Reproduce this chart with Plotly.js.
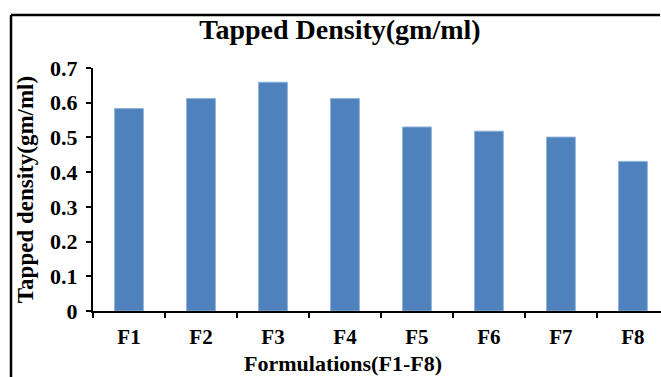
<!DOCTYPE html>
<html>
<head>
<meta charset="utf-8">
<script src="https://cdn.plot.ly/plotly-3.0.1.min.js"></script>
<style>html,body{margin:0;padding:0;background:#fff;}#chart{width:661px;height:377px;}</style>
</head>
<body>
<div id="chart"></div>
<script>
const categories = ["F1", "F2", "F3", "F4", "F5", "F6", "F7", "F8"];
const tappedDensity = [0.583, 0.612, 0.659, 0.612, 0.530, 0.518, 0.501, 0.431];
const yTickValues = [0, 0.1, 0.2, 0.3, 0.4, 0.5, 0.6, 0.7];
const yTickLabels = ["0", "0.1", "0.2", "0.3", "0.4", "0.5", "0.6", "0.7"];
const xAxisTitle = "Formulations(F1-F8)";

const serif = "Liberation Serif, Times New Roman, serif";

const trace = {
  type: "bar",
  x: categories,
  y: tappedDensity,
  width: 0.4,
  marker: { color: "#4F81BD", line: { color: "#8DB0DA", width: 1 } },
  hoverinfo: "x+y"
};

const layout = {
  width: 661,
  height: 377,
  margin: { l: 93, r: 0, t: 68, b: 66, pad: 0 },
  paper_bgcolor: "#ffffff",
  plot_bgcolor: "#ffffff",
  showlegend: false,
  font: { family: serif, color: "#000000", weight: "bold" },
  title: {
    text: "Tapped Density(gm/ml)",
    font: { family: serif, size: 28, color: "#000", weight: "bold" },
    xref: "container", yref: "container",
    x: 340 / 661, xanchor: "center",
    y: 1 - 29 / 377, yanchor: "middle"
  },
  xaxis: {
    type: "category",
    range: [-0.5, 7.39],
    tickson: "boundaries",
    ticks: "outside",
    ticklen: 5,
    tickwidth: 2,
    tickcolor: "#000",
    ticklabelstandoff: 6,
    showline: true,
    linecolor: "#000",
    linewidth: 2,
    showgrid: false,
    zeroline: false,
    tickfont: { family: serif, size: 21, color: "#000", weight: "bold" },
    automargin: false,
    fixedrange: true
  },
  yaxis: {
    range: [0, 0.7],
    tickvals: yTickValues,
    ticktext: yTickLabels,
    ticks: "outside",
    ticklen: 5,
    tickwidth: 2,
    tickcolor: "#000",
    ticklabelstandoff: 4,
    showline: true,
    linecolor: "#000",
    linewidth: 2,
    showgrid: false,
    zeroline: false,
    tickfont: { family: serif, size: 22, color: "#000", weight: "bold" },
    title: {
      text: "Tapped density(gm/ml)",
      font: { family: serif, size: 23, color: "#000", weight: "bold" },
      standoff: 10
    },
    automargin: false,
    fixedrange: true
  },
  annotations: [
    { text: xAxisTitle, xref: "paper", yref: "paper",
      x: (343 - 93) / 568, xanchor: "center",
      y: (311 - 377) / 243, yanchor: "bottom",
      borderpad: 0,
      showarrow: false,
      font: { family: serif, size: 22, color: "#000", weight: "bold" } }
  ],
  shapes: [
    { type: "line", xref: "paper", yref: "paper",
      x0: (11 - 93) / 568, x1: (660 - 93) / 568,
      y0: (311 - 15) / 243, y1: (311 - 15) / 243,
      line: { color: "#000", width: 2.5 } },
    { type: "line", xref: "paper", yref: "paper",
      x0: (11 - 93) / 568, x1: (11 - 93) / 568,
      y0: (311 - 15) / 243, y1: (311 - 380) / 243,
      line: { color: "#000", width: 2.5 } }
  ]
};

Plotly.newPlot("chart", [trace], layout, { staticPlot: true, displayModeBar: false });
</script>
</body>
</html>
